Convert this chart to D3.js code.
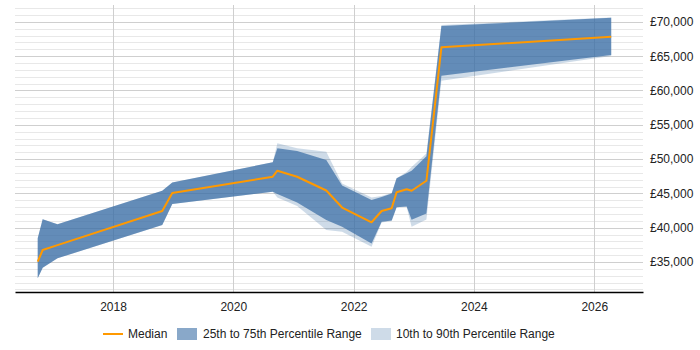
<!DOCTYPE html>
<html>
<head>
<meta charset="utf-8">
<script src="https://cdn.jsdelivr.net/npm/d3@7"></script>
<style>
  body { margin: 0; background: #fff; }
  text { font-family: "Liberation Sans", Arial, sans-serif; }
</style>
</head>
<body>
<div id="chart"></div>
<script>
// salary series
const dates = ["2016-10-01", "2016-10-31", "2017-01-29", "2018-10-27", "2018-12-27",
  "2020-08-28", "2020-09-25", "2021-01-23", "2021-07-19", "2021-10-23", "2022-04-20",
  "2022-06-20", "2022-08-20", "2022-09-19", "2022-11-19", "2022-12-19", "2023-03-19",
  "2023-06-18", "2026-04-14"];
const median = [35040, 36750, 37460, 42430, 45060, 47430, 48310, 47430, 45420, 42940, 40790,
  42430, 42830, 45160, 45610, 45380, 46840, 66300, 67840];
const p25 = [32620, 34170, 35540, 40390, 43450, 45250, 44910, 43670, 41120, 40150, 37700,
  40870, 41050, 42970, 43090, 41150, 42070, 62160, 65170];
const p75 = [38450, 41220, 40500, 45390, 46590, 49530, 51570, 51180, 49870, 46150, 44040,
  44470, 44990, 47200, 47930, 48310, 50420, 69400, 70610];
const p10 = [32620, 34170, 35540, 40390, 43450, 45250, 44400, 43160, 39660, 39420, 37230,
  40760, 40980, 42970, 43020, 40150, 41200, 61430, 65030];
const p90 = [38450, 41220, 40500, 45390, 46590, 49530, 52300, 51570, 51080, 46440, 44400,
  44620, 45060, 47200, 48120, 48850, 50820, 69550, 70640];

const yTicks = [35000, 40000, 45000, 50000, 55000, 60000, 65000, 70000];
const xTickYears = [2018, 2020, 2022, 2024, 2026];
const legendLabels = ["Median", "25th to 75th Percentile Range", "10th to 90th Percentile Range"];

const width = 700, height = 350;
const margin = { top: 5, right: 57, bottom: 58, left: 15 };
const chartWidth = width - margin.left - margin.right;
const chartHeight = height - margin.top - margin.bottom;

const parse = d3.timeParse("%Y-%m-%d");
const rows = dates.map((d, i) => ({
  date: parse(d), median: median[i], p25: p25[i], p75: p75[i], p10: p10[i], p90: p90[i]
}));

const svg = d3.select("#chart").append("svg")
  .attr("width", width)
  .attr("height", height);

const chartGroup = svg.append("g")
  .attr("transform", `translate(${margin.left}, ${margin.top})`);

const xScale = d3.scaleTime()
  .domain([new Date(2016, 4, 16), new Date(2026, 9, 24)])
  .range([0, chartWidth]);

const yScale = d3.scaleLinear()
  .domain([30627, 72463])
  .range([chartHeight, 0]);

// gridlines - minor every 1000, major every 5000
const minor = d3.range(31000, 72463, 1000).filter(v => v % 5000 !== 0);
chartGroup.append("g").selectAll("line")
  .data(minor)
  .enter().append("line")
  .attr("x1", 0).attr("x2", chartWidth)
  .attr("y1", d => Math.round(yScale(d)) + 0.5)
  .attr("y2", d => Math.round(yScale(d)) + 0.5)
  .attr("stroke", "#e8e8e8");

chartGroup.append("g").selectAll("line")
  .data(yTicks)
  .enter().append("line")
  .attr("x1", 0).attr("x2", chartWidth)
  .attr("y1", d => Math.round(yScale(d)) + 0.5)
  .attr("y2", d => Math.round(yScale(d)) + 0.5)
  .attr("stroke", "#cfcfcf");

const xTicks = xTickYears.map(y => new Date(y, 0, 1));
chartGroup.append("g").selectAll("line")
  .data(xTicks)
  .enter().append("line")
  .attr("x1", d => Math.round(xScale(d)) + 0.5)
  .attr("x2", d => Math.round(xScale(d)) + 0.5)
  .attr("y1", 0).attr("y2", chartHeight)
  .attr("stroke", "#cfcfcf");

// bands
const bandColor = "#3a6ea5";
const outerArea = d3.area()
  .x(d => xScale(d.date))
  .y0(d => yScale(d.p10))
  .y1(d => yScale(d.p90));
const innerArea = d3.area()
  .x(d => xScale(d.date))
  .y0(d => yScale(d.p25))
  .y1(d => yScale(d.p75));

chartGroup.append("path")
  .datum(rows)
  .attr("d", outerArea)
  .attr("fill", bandColor)
  .attr("fill-opacity", 0.25);

chartGroup.append("path")
  .datum(rows)
  .attr("d", innerArea)
  .attr("fill", bandColor)
  .attr("fill-opacity", 0.72);

const line = d3.line()
  .x(d => xScale(d.date))
  .y(d => yScale(d.median));

chartGroup.append("path")
  .datum(rows)
  .attr("d", line)
  .attr("fill", "none")
  .attr("stroke", "#ff9900")
  .attr("stroke-width", 2)
  .attr("stroke-linejoin", "round");

// x axis
const xAxis = d3.axisBottom(xScale)
  .tickValues(xTicks)
  .tickFormat(d3.timeFormat("%Y"))
  .tickSize(0)
  .tickPadding(10);

const xg = chartGroup.append("g")
  .attr("transform", `translate(0, ${chartHeight})`)
  .call(xAxis);
xg.select(".domain").attr("stroke", "#000").attr("stroke-width", 1.5);
xg.selectAll("text").attr("font-size", "12px").attr("fill", "#222")
  .style("font-family", "'Liberation Sans', Arial, sans-serif");

// y axis on the right
const yAxis = d3.axisRight(yScale)
  .tickValues(yTicks)
  .tickFormat(d => "£" + d3.format(",")(d))
  .tickSize(0)
  .tickPadding(7);

const yg = chartGroup.append("g")
  .attr("transform", `translate(${chartWidth}, 0)`)
  .call(yAxis);
yg.select(".domain").remove();
yg.selectAll("text").attr("font-size", "12px").attr("fill", "#222")
  .style("font-family", "'Liberation Sans', Arial, sans-serif");

// legend
const legend = svg.append("g").attr("transform", "translate(0, 334)");
legend.append("line")
  .attr("x1", 103).attr("x2", 123)
  .attr("y1", 0).attr("y2", 0)
  .attr("stroke", "#ff9900").attr("stroke-width", 2);
legend.append("text").attr("x", 128).attr("y", 4).attr("font-size", "12px").attr("fill", "#222").text(legendLabels[0]);

legend.append("rect")
  .attr("x", 177).attr("y", -6).attr("width", 20).attr("height", 12)
  .attr("fill", bandColor).attr("fill-opacity", 0.6);
legend.append("text").attr("x", 203).attr("y", 4).attr("font-size", "12px").attr("fill", "#222").text(legendLabels[1]);

legend.append("rect")
  .attr("x", 371).attr("y", -6).attr("width", 20).attr("height", 12)
  .attr("fill", bandColor).attr("fill-opacity", 0.25);
legend.append("text").attr("x", 396).attr("y", 4).attr("font-size", "12px").attr("fill", "#222").text(legendLabels[2]);
</script>
</body>
</html>
